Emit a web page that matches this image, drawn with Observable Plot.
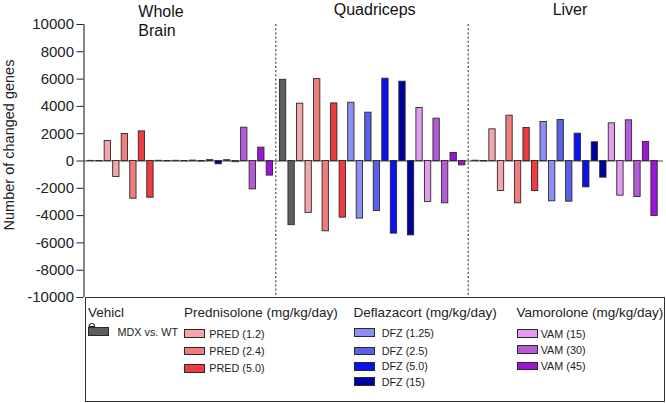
<!DOCTYPE html>
<html>
<head>
<meta charset="utf-8">
<script src="https://cdn.jsdelivr.net/npm/d3@7"></script>
<script src="https://cdn.jsdelivr.net/npm/@observablehq/plot@0.6"></script>
<style>
  html, body { margin: 0; padding: 0; background: #fff; }
  #wrap { position: relative; width: 666px; height: 403px; overflow: hidden;
          font-family: Arial, "Liberation Sans", sans-serif; color: #222; }
  #wrap svg { position: absolute; left: 0; top: 0; }
  .lg { position: absolute; white-space: nowrap; }
  .sw { position: absolute; box-sizing: border-box; border: 1.2px solid #2a2a2a; }
</style>
</head>
<body>
<div id="wrap"></div>
<script>
// ---------------- data ----------------
const tissues = ["Whole Brain", "Quadriceps", "Liver"];
const treatments = ["MDX vs. WT", "PRED (1.2)", "PRED (2.4)", "PRED (5.0)",
  "DFZ (1.25)", "DFZ (2.5)", "DFZ (5.0)", "DFZ (15)", "VAM (15)", "VAM (30)", "VAM (45)"];
const colors = ["#5e5e5e", "#f4a6aa", "#f07c80", "#ee3a40",
  "#8c90f2", "#5a60e8", "#0a12f0", "#0000a0", "#e49cf2", "#b55ad8", "#9c14d8"];
const brainUp   = [10, 1470, 1980, 2170, 15, 15, 30, 60, 60, 2440, 980];
const brainDown = [-10, -1170, -2760, -2690, -15, -15, -30, -240, -90, -2080, -1070];
const quadUp    = [5950, 4200, 6000, 4220, 4270, 3540, 6030, 5810, 3880, 3100, 590];
const quadDown  = [-4700, -3800, -5150, -4150, -4220, -3660, -5320, -5450, -3000, -3100, -320];
const liverUp   = [20, 2320, 3320, 2420, 2860, 3000, 2000, 1370, 2760, 2980, 1390];
const liverDown = [-20, -2200, -3100, -2200, -2950, -2980, -1930, -1220, -2540, -2640, -4030];
const yTicks = [-10000, -8000, -6000, -4000, -2000, 0, 2000, 4000, 6000, 8000, 10000];
const yLabel = "Number of changed genes";
const legendGroups = [
  {title: "Vehicle", members: ["MDX vs. WT"]},
  {title: "Prednisolone (mg/kg/day)", members: ["PRED (1.2)", "PRED (2.4)", "PRED (5.0)"]},
  {title: "Deflazacort (mg/kg/day)", members: ["DFZ (1.25)", "DFZ (2.5)", "DFZ (5.0)", "DFZ (15)"]},
  {title: "Vamorolone (mg/kg/day)", members: ["VAM (15)", "VAM (30)", "VAM (45)"]}
];

// ---------------- layout ----------------
const series = [[brainUp, brainDown], [quadUp, quadDown], [liverUp, liverDown]];
const perTissue = treatments.length * 2;
const gap = 0.55;
const period = perTissue + gap;
const rows = [];
tissues.forEach((tissue, t) => {
  treatments.forEach((tr, g) => {
    rows.push({tissue, treatment: tr, dir: "up", pos: t * period + g * 2, value: series[t][0][g]});
    rows.push({tissue, treatment: tr, dir: "down", pos: t * period + g * 2 + 1, value: series[t][1][g]});
  });
});
const separators = tissues.slice(1).map((_, k) => (k + 1) * period - 0.85);
const titleRows = tissues.map((name, t) => ({name, center: t * period + (perTissue - 1) / 2}));
const half = 0.37;
const xDomain = [-0.79, 2 * period + perTissue - 1 + 1.05];

const font = 'Arial, "Liberation Sans", sans-serif';

const chart = Plot.plot({
  width: 666, height: 305,
  marginLeft: 83.5, marginRight: 3, marginTop: 24, marginBottom: 8,
  style: {fontFamily: font, fontSize: "15px", color: "#222", background: "transparent", overflow: "visible"},
  x: {domain: xDomain, axis: null},
  y: {domain: [-10000, 10000], ticks: yTicks, tickFormat: d => String(d), tickSize: 7, tickPadding: 3, label: null},
  color: {domain: treatments, range: colors},
  marks: [
    Plot.ruleX([xDomain[0]], {stroke: "#333", strokeWidth: 1.2}),
    Plot.ruleX(separators, {stroke: "#222", strokeWidth: 1, strokeDasharray: "2,2.2"}),
    Plot.ruleY([0], {stroke: "#444", strokeWidth: 1}),
    Plot.rectY(rows, {x1: d => d.pos - half, x2: d => d.pos + half, y1: 0, y2: "value",
      fill: "treatment", stroke: "#2a2a2a", strokeWidth: 0.9}),
    Plot.text(titleRows.slice(0, 1), {x: "center", text: "name", frameAnchor: "top", lineAnchor: "top",
      textAnchor: "start", dx: -42, dy: -21, fontSize: 16, lineWidth: 4, lineHeight: 1.18, fill: "#111"}),
    Plot.text(titleRows.slice(1, 2), {x: "center", text: "name", frameAnchor: "top", lineAnchor: "top",
      dx: 2, dy: -21, fontSize: 16, fill: "#111"}),
    Plot.text(titleRows.slice(2), {x: "center", text: "name", frameAnchor: "top", lineAnchor: "top",
      dx: 5, dy: -21, fontSize: 16, fill: "#111"}),
    Plot.text([yLabel], {text: d => d, frameAnchor: "left", textAnchor: "middle", lineAnchor: "middle",
      rotate: -90, dx: -74.5, dy: -16, fontSize: 14.5, fill: "#222"})
  ]
});

const wrap = document.getElementById("wrap");
wrap.appendChild(chart);

// ---------------- legend (HTML below the plot) ----------------
const box = document.createElement("div");
box.style.cssText = "position:absolute;left:85px;top:297px;width:580px;height:105px;box-sizing:border-box;border:1.5px solid #333;background:#fff;";
wrap.appendChild(box);

function textAt(str, left, baseline, fs, extra) {
  const el = document.createElement("div");
  el.className = "lg";
  el.textContent = str;
  el.style.left = left + "px";
  el.style.top = (baseline - 0.8465 * fs) + "px";
  el.style.fontSize = fs + "px";
  el.style.lineHeight = fs + "px";
  if (extra) Object.assign(el.style, extra);
  wrap.appendChild(el);
  return el;
}
const colX = [88, 184, 353.5, 516.5];
const labelOff = [29.5, 25.3, 28.2, 24.2];
const rowTops = [[327.3], [329.3, 346.7, 364], [328.3, 346.5, 362, 377.3], [329.3, 345.3, 361.7]];
const headFs = 13.5, itemFs = 10.8;
legendGroups.forEach((grp, c) => {
  if (c === 0) {
    textAt(grp.title, colX[c], 317, headFs, {whiteSpace: "normal", wordBreak: "break-all", width: "40px"});
  } else {
    textAt(grp.title, colX[c], 317, headFs);
  }
  grp.members.forEach((m, r) => {
    const top = rowTops[c][r];
    const sw = document.createElement("div");
    sw.className = "sw";
    sw.style.left = colX[c] + "px";
    sw.style.top = top + "px";
    sw.style.width = "21px";
    sw.style.height = "8.8px";
    sw.style.background = colors[treatments.indexOf(m)];
    wrap.appendChild(sw);
    textAt(m, colX[c] + labelOff[c], top + 8.6, itemFs);
  });
});
</script>
</body>
</html>
